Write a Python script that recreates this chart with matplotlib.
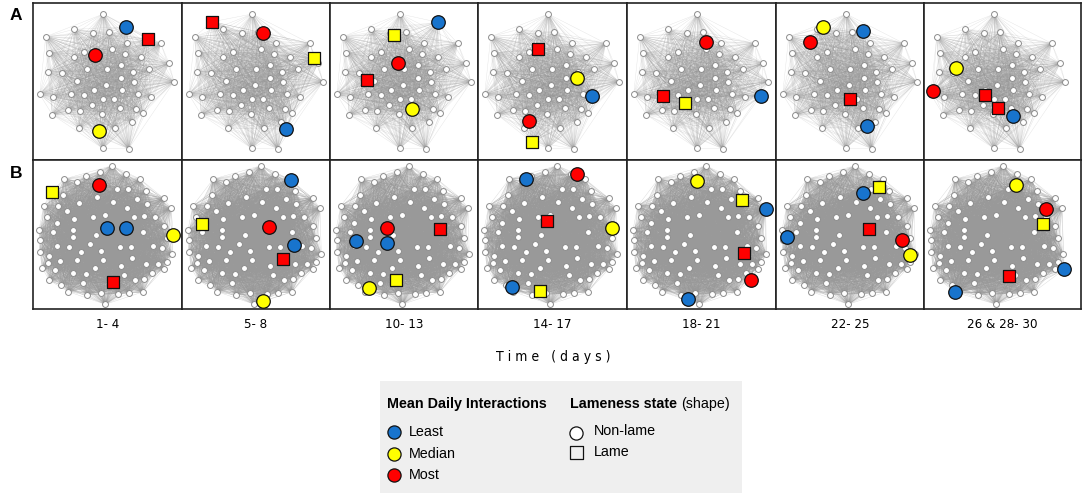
import numpy as np
import matplotlib.pyplot as plt
from matplotlib.collections import LineCollection
from matplotlib.patches import Rectangle

W, H = 1084, 495

periods = ["1- 4", "5- 8", "10- 13", "14- 17", "18- 21", "22- 25", "26 & 28- 30"]

# panel borders, figure pixels
col_edges = [33, 182, 330, 478, 627, 776, 924, 1081]
row_edges = [3, 160, 309]

a_nodes = [(70.3, 11), (41, 26.3), (59.7, 29.7), (76.3, 29), (12.7, 33.7), (94, 40.3),
           (127.7, 40.3), (51, 48.7), (79.3, 46.3), (92, 51.3), (108.3, 53.7), (16.3, 49.7),
           (41, 53.7), (136, 60.3), (88, 62), (29, 69.7), (54, 66.3), (74, 66.3), (100, 68.7),
           (115.7, 66), (14.7, 69), (43.7, 78), (88, 75), (100.7, 79), (141, 78.7), (72.7, 82),
           (6.7, 91.3), (20.3, 94.3), (38, 91.3), (51, 92), (60.7, 87), (89.3, 87), (105, 91.3),
           (117.7, 93.7), (70, 96.3), (80.7, 96.3), (58.7, 102), (87, 105), (102.7, 106),
           (35, 107), (47.3, 108.3), (19.3, 111.7), (110.3, 110.3), (68.7, 111.3),
           (45.7, 125.3), (81.7, 125.3), (98.7, 118.7), (69.7, 145.3), (95.7, 145.7)]

b_nodes = [(79, 5.7), (67, 12.3), (93, 14), (53, 16), (107, 19), (31.3, 19), (44.3, 21.7),
           (83.7, 29.3), (95.3, 29.3), (112.7, 31), (63.7, 37), (30.3, 35), (103.7, 39),
           (130.7, 38.3), (138, 48.3), (45.7, 43.3), (80.3, 42.3), (93.7, 47.7), (113.7, 44.3),
           (10.7, 46), (25.3, 46), (33.7, 51), (72.3, 55), (59.7, 56.7), (101, 57.3), (111, 55.7),
           (122.3, 57), (131, 65.7), (13.7, 57), (41, 59.3), (24.3, 62.7), (20, 72.3),
           (39.7, 70), (39.7, 76.7), (63.3, 75), (110.3, 72.3), (133.7, 77.7), (6, 70),
           (7, 79.7), (57, 84.3), (48.3, 92.3), (68.3, 90.7), (87, 86.7), (97.7, 87.3),
           (119.7, 85.7), (129, 88.3), (139.3, 94.3), (24, 86.3), (36, 86.7), (6.7, 91.7),
           (15.7, 95.7), (44.3, 99.7), (69.7, 100.3), (87.7, 106.3), (98.7, 98.3), (113, 104),
           (125, 104), (131, 108.7), (133.7, 101.7), (26.7, 100.7), (15.3, 103.3), (9.3, 108),
           (22, 109.7), (39.7, 113.3), (62.3, 108.3), (53, 114), (16.3, 120.3), (49.7, 123.3),
           (91, 115), (102, 120), (110.7, 119.3), (118.7, 113.3), (28.3, 125), (35.3, 131.7),
           (54.3, 135), (68.3, 133.3), (85.3, 133.7), (96.3, 133), (109.7, 132), (72.3, 144.3)]

# highlighted cows: x, y (panel pixels), interaction level, lame
a1 = [(92.7, 23.7, "least", False), (115.3, 36.3, "most", True),
      (62, 52.3, "most", False), (65.7, 128.3, "median", False)]
a2 = [(30.3, 18.7, "most", True), (81, 29.7, "most", False),
      (132.3, 54.7, "median", True), (104.3, 126.3, "least", False)]
a3 = [(108.3, 19.3, "least", False), (64.3, 31.7, "median", True), (68.3, 60.3, "most", False),
      (36.7, 77.3, "most", True), (82.3, 105.7, "median", False)]
a4 = [(60.3, 46.3, "most", True), (98.7, 75.3, "median", False), (114.3, 92.7, "least", False),
      (50.7, 118, "most", False), (53.7, 138.7, "median", True)]
a5 = [(79, 39.3, "most", False), (133.7, 92.7, "least", False),
      (36.3, 93, "most", True), (58, 100.3, "median", True)]
a6 = [(47.3, 23.7, "median", False), (33.7, 39.3, "most", False), (86.7, 28, "least", False),
      (74.3, 96.3, "most", True), (91.3, 123, "least", False)]
a7 = [(31.7, 65.3, "median", False), (9, 87.7, "most", False), (61.3, 92, "most", True),
      (74.3, 105.3, "most", True), (89.3, 113, "least", False)]

b1 = [(18.7, 31.7, "median", True), (65.7, 25, "most", False), (74.3, 67.7, "least", False),
      (93, 68.3, "least", False), (140.3, 75, "median", False), (80.3, 121.7, "most", True)]
b2 = [(108.7, 20, "least", False), (19.7, 64, "median", True), (87.3, 66.7, "most", False),
      (112, 85, "least", False), (100.7, 99.3, "most", True), (81, 141, "median", False)]
b3 = [(57.3, 68.3, "most", False), (110, 68.7, "most", True), (25.7, 81.3, "least", False),
      (56.7, 82.7, "least", False), (66.3, 119.7, "median", True), (39.3, 128.3, "median", False)]
b4 = [(47.7, 18.7, "least", False), (98.7, 13.7, "most", False), (69, 61, "most", True),
      (134, 68.3, "median", False), (33.7, 127, "least", False), (61.7, 131.3, "median", True)]
b5 = [(69.7, 20.7, "median", False), (114.7, 40.3, "median", True), (138.7, 48.7, "least", False),
      (116.7, 93.3, "most", True), (124, 120, "most", False), (61.3, 138.7, "least", False)]
b6 = [(87, 33, "least", False), (103.3, 27.3, "median", True), (93.3, 68.7, "most", True),
      (11, 76.7, "least", False), (126, 79.7, "most", False), (133.7, 95.3, "median", False)]
b7 = [(91.7, 25.3, "median", False), (121.7, 48.7, "most", False), (118.7, 63.7, "median", True),
      (140.3, 109.3, "least", False), (85.3, 116, "most", True), (31.3, 132.3, "least", False)]

rows = [[a1, a2, a3, a4, a5, a6, a7], [b1, b2, b3, b4, b5, b6, b7]]
templates = [a_nodes, b_nodes]
row_letters = ["A", "B"]

level_colors = {"least": "#1874cd", "median": "#ffff00", "most": "#ff0000"}
edge_alpha = [0.28, 0.38]
narrow = ["Liberation Sans Narrow", "DejaVu Sans"]
plt.rcParams["font.family"] = ["Liberation Sans", "DejaVu Sans"]

fig = plt.figure(figsize=(W / 100, H / 100), dpi=100)

# overlay in figure pixels for labels and legend
ov = fig.add_axes([0, 0, 1, 1])
ov.set_xlim(0, W)
ov.set_ylim(H, 0)
ov.axis("off")

for r, panels in enumerate(rows):
    y0, y1 = row_edges[r], row_edges[r + 1]
    for c, hl in enumerate(panels):
        x0, x1 = col_edges[c], col_edges[c + 1]
        ax = fig.add_axes([x0 / W, 1 - y1 / H, (x1 - x0) / W, (y1 - y0) / H])
        ax.set_xlim(0, x1 - x0)
        ax.set_ylim(y1 - y0, 0)
        white = np.array(templates[r])
        pts = np.vstack([white, np.array([(x, y) for x, y, _, _ in hl])])
        i, j = np.triu_indices(len(pts), 1)
        segs = np.stack([pts[i], pts[j]], axis=1)
        ax.add_collection(LineCollection(segs, colors="#999999", linewidths=0.3,
                                         alpha=edge_alpha[r], zorder=1))
        ax.scatter(white[:, 0], white[:, 1], s=18, c="white", edgecolors="#8c8c8c",
                   linewidths=0.7, zorder=3)
        for x, y, lvl, lame in hl:
            ax.scatter(x, y, s=80 if lame else 95, marker="s" if lame else "o",
                       c=level_colors[lvl], edgecolors="#111111", linewidths=0.9,
                       zorder=4, clip_on=False)
        ax.set_xticks([])
        ax.set_yticks([])
        for sp in ax.spines.values():
            sp.set_linewidth(1.2)
            sp.set_color("#222222")
    ov.text(10, y0 + 13, row_letters[r], fontsize=12.5, fontweight="bold", ha="left", va="center")

for c, lab in enumerate(periods):
    ov.text((col_edges[c] + col_edges[c + 1]) / 2, 325, lab, ha="center", va="center",
            fontsize=9.5, family=narrow, fontstretch="condensed")
ov.text(553, 357, "T i m e   ( d a y s )", ha="center", va="center", fontsize=10,
        family=narrow, fontstretch="condensed")

# legend box
ov.add_patch(Rectangle((380, 381), 362, 112, facecolor="#efefef", edgecolor="none"))
ov.text(387, 404, "Mean Daily Interactions", fontsize=10.3, fontweight="bold", va="center")
for k, (lvl, lab) in enumerate([("least", "Least"), ("median", "Median"), ("most", "Most")]):
    yy = 432 + 21.5 * k
    ov.scatter(393.5, yy, s=90, c=level_colors[lvl], edgecolors="#111111", linewidths=0.9)
    ov.text(409, yy, lab, fontsize=10.3, va="center")
lam = ov.text(570, 404, "Lameness state", fontsize=10.3, fontweight="bold", va="center")
ov.annotate("(shape)", xy=(1, 0.5), xycoords=lam, xytext=(3, 0), textcoords="offset points",
            fontsize=10.3, va="center")
ov.scatter(576, 432.5, s=90, marker="o", facecolors="white", edgecolors="#111111", linewidths=0.9)
ov.text(594, 431, "Non-lame", fontsize=10.3, va="center")
ov.scatter(576.5, 452.5, s=80, marker="s", facecolors="none", edgecolors="#111111", linewidths=0.9)
ov.text(594, 452, "Lame", fontsize=10.3, va="center")

fig.savefig("out.png", dpi=100)
